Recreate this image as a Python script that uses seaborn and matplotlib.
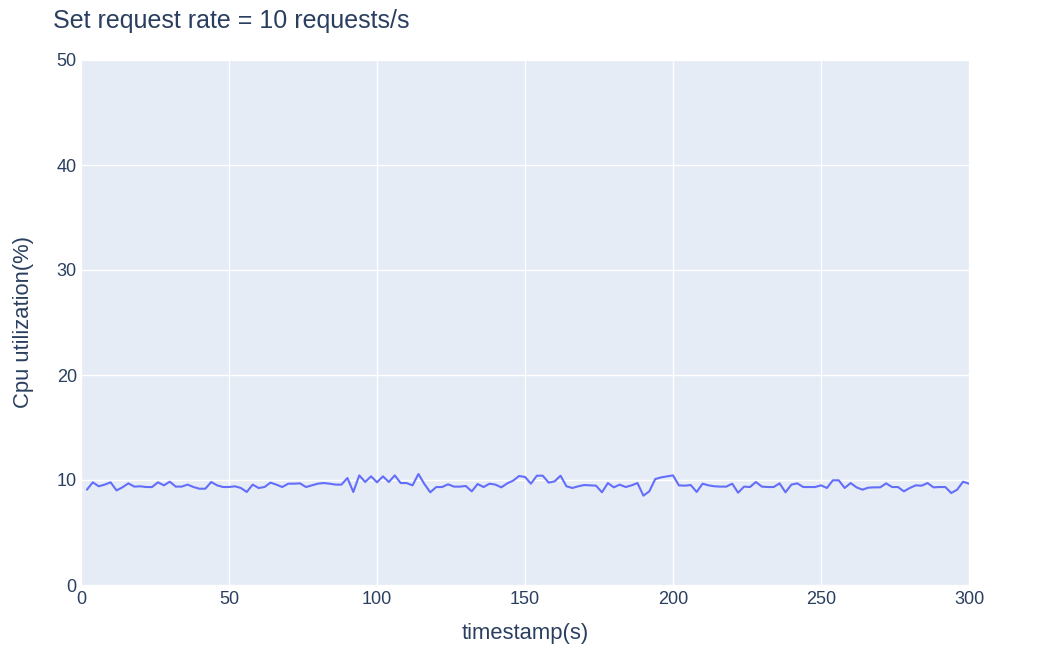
import matplotlib
matplotlib.use("Agg")
import matplotlib.pyplot as plt
import seaborn as sns
import pandas as pd
import numpy as np

timestamps = list(range(2, 301, 2))
cpu_util = [
    9.08, 9.78, 9.40, 9.56, 9.78, 9.01, 9.30, 9.68, 9.37, 9.40,
    9.33, 9.33, 9.78, 9.49, 9.84, 9.37, 9.37, 9.56, 9.33, 9.17,
    9.17, 9.81, 9.49, 9.33, 9.33,
    9.40, 9.24, 8.86, 9.56, 9.24, 9.33, 9.75, 9.56, 9.33, 9.65,
    9.65, 9.68, 9.33, 9.49, 9.65, 9.71, 9.65, 9.56, 9.56, 10.19,
    8.86, 10.44, 9.81, 10.35, 9.78,
    10.35, 9.81, 10.44, 9.71, 9.71, 9.49, 10.57, 9.62, 8.83, 9.33,
    9.33, 9.59, 9.37, 9.37, 9.43, 8.92, 9.62, 9.33, 9.65, 9.56,
    9.30, 9.68, 9.94, 10.38, 10.29,
    9.65, 10.41, 10.41, 9.75, 9.87, 10.41, 9.40, 9.24, 9.40, 9.52,
    9.49, 9.46, 8.83, 9.71, 9.30, 9.56, 9.33, 9.49, 9.71, 8.51,
    8.92, 10.09, 10.25, 10.35, 10.44,
    9.49, 9.46, 9.52, 8.86, 9.65, 9.49, 9.40, 9.37, 9.37, 9.65,
    8.79, 9.37, 9.33, 9.81, 9.37, 9.33, 9.33, 9.68, 8.83, 9.56,
    9.68, 9.33, 9.33, 9.33, 9.49,
    9.24, 9.97, 9.97, 9.24, 9.71, 9.30, 9.08, 9.27, 9.30, 9.30,
    9.68, 9.33, 9.33, 8.92, 9.24, 9.49, 9.46, 9.71, 9.30, 9.33,
    9.33, 8.76, 9.08, 9.84, 9.65,
]
x_ticks = [0, 50, 100, 150, 200, 250, 300]
y_ticks = [0, 10, 20, 30, 40, 50]
title = "Set request rate = 10 requests/s"
x_label = "timestamp(s)"
y_label = "Cpu utilization(%)"

df = pd.DataFrame({"timestamp": timestamps, "cpu": cpu_util})

sns.set_theme(style="darkgrid", rc={
    "axes.facecolor": "#E5ECF6",
    "grid.color": "white",
    "grid.linewidth": 1.0,
    "axes.edgecolor": "#E5ECF6",
})
plt.rcParams["font.family"] = ["Liberation Sans", "DejaVu Sans"]

text_color = "#2a3f5f"
fig = plt.figure(figsize=(10.5, 6.66), dpi=100)
ax = fig.add_axes([81 / 1050, 81 / 666, 888 / 1050, 525 / 666])

sns.lineplot(data=df, x="timestamp", y="cpu", ax=ax, color="#636EFA", linewidth=1.5)

ax.set_xlim(0, 300)
ax.set_ylim(0, 50)
ax.set_xticks(x_ticks)
ax.set_yticks(y_ticks)
for s in ax.spines.values():
    s.set_visible(False)
ax.tick_params(axis="both", length=0, labelsize=13, colors=text_color, pad=4)
ax.tick_params(axis="y", pad=3)
ax.set_xlabel(x_label, fontsize=15.8, color=text_color, labelpad=11)
ax.set_ylabel(y_label, fontsize=15.8, color=text_color, labelpad=16)
fig.text(53 / 1050, 1 - 21 / 666, title, fontsize=18, color=text_color,
         ha="left", va="center")

fig.savefig("out.png", dpi=100, facecolor="white")
